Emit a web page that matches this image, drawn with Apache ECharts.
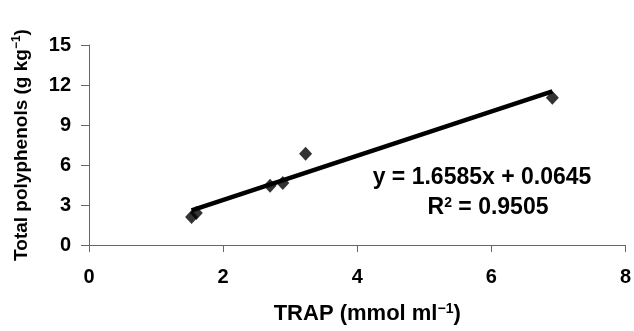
<!DOCTYPE html>
<html><head><meta charset="utf-8">
<script src="https://cdn.jsdelivr.net/npm/echarts@6/dist/echarts.min.js"></script>
<style>html,body{margin:0;padding:0;background:#fff}#c{width:634px;height:331px}</style>
</head><body><div id="c"></div>
<script>
const trapX = [1.53, 1.6, 2.7, 2.89, 3.23, 6.91];
const polyY = [2.1, 2.4, 4.45, 4.65, 6.85, 11.05];
const slope = 1.6585, intercept = 0.0645, r2 = 0.9505;
const xTicks = [0, 2, 4, 6, 8];
const yTicks = [0, 3, 6, 9, 12, 15];

const pts = trapX.map((x, i) => [x, polyY[i]]);
const xmin = Math.min(...trapX), xmax = Math.max(...trapX);
const trend = [[xmin, slope * xmin + intercept], [xmax, slope * xmax + intercept]];
const font = 'Liberation Sans, Arial, sans-serif';
const chart = echarts.init(document.getElementById('c'));
chart.setOption({
  animation: false,
  grid: { left: 89, right: 8, top: 45, bottom: 86 },
  xAxis: {
    type: 'value', min: xTicks[0], max: xTicks[xTicks.length - 1], interval: 2,
    axisLine: { show: true, lineStyle: { color: '#666', width: 1 } },
    axisTick: { show: true, length: 7, lineStyle: { color: '#666' } },
    splitLine: { show: false },
    axisLabel: { color: '#000', fontWeight: 'bold', fontSize: 20, fontFamily: font, margin: 22 },
    name: '{b|TRAP (mmol ml}{s|−1}{b|)}', nameLocation: 'middle', nameGap: 57,
    nameTextStyle: { padding: [0, 0, 0, 20], rich: {
      b: { fontWeight: 'bold', fontSize: 22, fontFamily: font, color: '#000' },
      s: { fontWeight: 'bold', fontSize: 14, fontFamily: font, color: '#000', verticalAlign: 'top', padding: [0,0,10,0] }
    } }
  },
  yAxis: {
    type: 'value', min: yTicks[0], max: yTicks[yTicks.length - 1], interval: 3,
    axisLine: { show: true, lineStyle: { color: '#666', width: 1 } },
    axisTick: { show: true, length: 8, lineStyle: { color: '#666' } },
    splitLine: { show: false },
    axisLabel: { color: '#000', fontWeight: 'bold', fontSize: 20, fontFamily: font, margin: 18 },
    name: '{b|Total polyphenols (g kg}{s|−1}{b|)}', nameLocation: 'middle', nameGap: 57, nameRotate: 90,
    nameTextStyle: { rich: {
      b: { fontWeight: 'bold', fontSize: 19, fontFamily: font, color: '#000' },
      s: { fontWeight: 'bold', fontSize: 12, fontFamily: font, color: '#000', verticalAlign: 'top', padding: [0,0,9,0] }
    } }
  },
  series: [
    { type: 'line', data: trend, symbol: 'none', lineStyle: { color: '#000', width: 4.5 }, z: 2 },
    { type: 'scatter', data: pts, symbol: 'diamond', symbolSize: [13, 14], itemStyle: { color: '#000' }, z: 3 }
  ],
  graphic: [
    { type: 'text', x: 482, y: 178, style: { text: 'y = ' + slope + 'x + ' + intercept, font: 'bold 23px ' + font, fill: '#000', align: 'center', verticalAlign: 'middle' } },
    { type: 'text', x: 488, y: 208, style: {
      text: '{b|R}{s|2}{b| = ' + r2 + '}', align: 'center', verticalAlign: 'middle',
      rich: {
        b: { fontWeight: 'bold', fontSize: 23, fontFamily: font, color: '#000' },
        s: { fontWeight: 'bold', fontSize: 14, fontFamily: font, color: '#000', verticalAlign: 'top', padding: [0,0,10,0] }
      } } }
  ]
});
</script></body></html>
